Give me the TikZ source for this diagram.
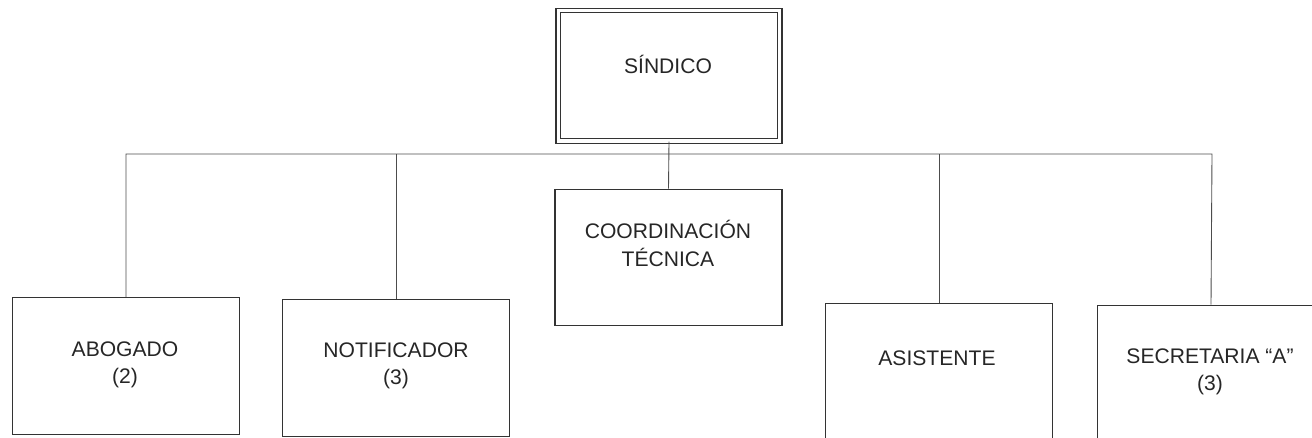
\documentclass[tikz,border=0pt]{standalone}
\usepackage{fontspec}
\setmainfont{Liberation Sans}
\begin{document}
\begin{tikzpicture}[x=0.02cm, y=-0.02cm,
	caja/.style={draw=black!80, line width=0.7pt, inner sep=0pt,
		minimum width=45.4mm, minimum height=27.3mm},
	texto/.style={font=\fontsize{12}{15.5}\selectfont, text=black!85, align=center},
	linea/.style={draw=black!70, line width=0.5pt}]
	\useasboundingbox (0,0) rectangle (1312,438);
	\clip (0,0) rectangle (1312,438);
	\coordinate (busl) at (126,154);
	\coordinate (busr) at (1212,154);

	\node[caja, double, double distance=1.9pt,
		minimum width=44.3mm, minimum height=26.1mm] (sindico) at (669,75.7) {};
	\node[caja] (coord) at (668.5,257.5) {};
	\node[caja] (abogado) at (126,366) {};
	\node[caja] (notif) at (396,368) {};
	\node[caja] (asist) at (939,371.5) {};
	\node[caja] (secret) at (1211,373.5) {};

	\node[texto] (tsindico) at (668,64) {SÍNDICO};
	\node[texto] (tcoord) at (668,243.5) {COORDINACIÓN\\TÉCNICA};
	\node[texto] (tabogado) at (125,364.5) {ABOGADO\\(2)};
	\node[texto] (tnotif) at (396,366) {NOTIFICADOR\\(3)};
	\node[texto] (tasist) at (937,358) {ASISTENTE};
	\node[texto] (tsecret) at (1210,372) {SECRETARIA “A”\\(3)};

	\draw[linea] (sindico.south) -- (coord.north);
	\draw[linea] (abogado.north) -- (abogado.north |- busl) -- (busr) -- (secret.north);
	\foreach \n in {notif, asist}{%
		\draw[linea] (\n.north) -- (\n.north |- busl);
	}
\end{tikzpicture}
\end{document}
